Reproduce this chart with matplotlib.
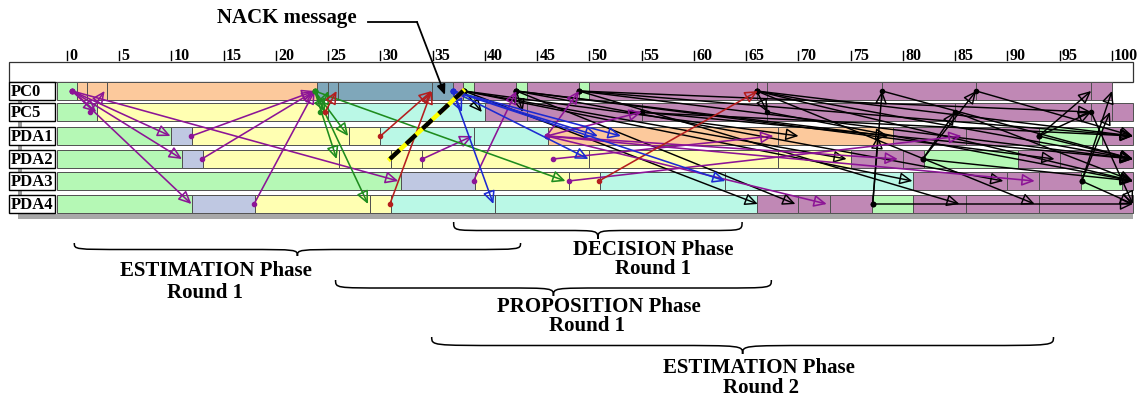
import matplotlib
matplotlib.use("Agg")
import matplotlib.pyplot as plt
from matplotlib.patches import Rectangle, FancyArrowPatch, PathPatch
from matplotlib.path import Path

# ---- data --------------------------------------------------------------
rows = ["PC0", "PC5", "PDA1", "PDA2", "PDA3", "PDA4"]

state_colors = {
    "G": "#b5f8b5",   # green
    "O": "#fcc99c",   # orange
    "S": "#7fa7ba",   # steel blue
    "P": "#c088b5",   # mauve
    "Y": "#ffffb2",   # yellow
    "C": "#baf8e6",   # cyan
    "B": "#bfc8e2",   # blue-grey
}

# state boundaries (time) and state of each interval, per row
bounds = [
    [-1, 1, 1.9, 3.8, 23.9, 25, 25.9, 34.9, 36.9, 37.9, 38.9, 43, 44, 49, 50, 66, 67, 78, 87, 98, 100, 102],
    [-1, 2.9, 25, 40, 44, 55, 67, 85, 98, 100, 102],
    [-1, 10, 12, 27, 30, 38.9, 46, 68, 79, 86, 93, 99, 102],
    [-1, 11, 13, 26, 31, 34, 50, 68, 75, 80, 82, 91, 95, 102],
    [-1, 32, 39, 48, 51, 63, 81, 90, 93, 97, 101, 102],
    [-1, 12, 18, 29, 31, 41, 66, 70, 73, 77, 81, 86, 93, 102],
]
states = [
    "GOOOSSSSPGPGPGPPPPPP",
    "GYCPPPPPPP",
    "GBYYCCOOPPGP",
    "GBYYYYYYPPGPP",
    "GBYYCCPPPGP",
    "GBYYCCPPPGPPP",
]

# messages: (t_from, row_from, t_to, row_to)
msg_purple = [(0.5, 0, 2.8, 1), (0.5, 0, 9.9, 2), (0.5, 0, 11.0, 3), (0.5, 0, 11.9, 5),
              (0.5, 0, 31.7, 4), (2.2, 1, 3.6, 0), (11.9, 2, 23.7, 0), (12.9, 3, 23.7, 0),
              (17.9, 5, 23.7, 0), (34.0, 3, 38.8, 2), (38.9, 4, 43.0, 0), (45.9, 2, 49.0, 0),
              (45.9, 2, 55.0, 1), (45.9, 2, 79.5, 3), (45.9, 2, 92.6, 4), (45.9, 2, 72.7, 5),
              (46.5, 3, 67.6, 2), (48.0, 4, 85.6, 2)]
msg_green = [(23.7, 0, 24.7, 1), (23.7, 0, 26.9, 2), (23.7, 0, 25.8, 3), (23.7, 0, 28.8, 5),
             (23.7, 0, 47.7, 4), (24.2, 1, 25.0, 0)]
msg_red = [(24.7, 1, 25.8, 0), (30.0, 2, 34.9, 0), (30.9, 5, 34.9, 0), (50.9, 4, 66.1, 0)]
msg_blue = [(36.9, 0, 37.8, 1), (36.9, 0, 40.8, 5), (36.9, 0, 49.9, 3), (36.9, 0, 50.8, 2),
            (36.9, 0, 63.0, 4), (36.9, 0, 53.0, 2)]
msg_black = [(38.0, 0, 39.7, 1), (38.0, 0, 66.1, 5), (38.0, 0, 74.6, 3), (38.0, 0, 80.9, 4),
             (38.0, 0, 70.0, 2), (43.0, 0, 43.6, 1), (43.0, 0, 78.6, 2), (43.0, 0, 89.6, 4),
             (43.0, 0, 69.7, 5), (43.0, 0, 94.5, 3), (49.0, 0, 85.4, 5), (49.0, 0, 102, 2),
             (49.0, 0, 102, 3), (49.0, 0, 98.0, 1), (66.0, 0, 67.0, 1), (66.0, 0, 102, 2),
             (66.0, 0, 102, 3), (66.0, 0, 102, 4), (66.0, 0, 92.6, 5), (54.0, 1, 102, 2),
             (55.0, 1, 102, 3), (67.0, 1, 102, 4), (77.1, 5, 78.0, 0), (77.1, 5, 77.6, 2),
             (77.1, 5, 102, 5), (81.9, 3, 87.0, 0), (81.9, 3, 85.0, 1), (81.9, 3, 102, 4),
             (93.0, 2, 98.0, 0), (93.0, 2, 98.0, 1), (93.0, 2, 102, 3), (97.1, 4, 100.0, 0),
             (97.1, 4, 99.8, 1), (97.1, 4, 102, 5), (87.0, 0, 102, 2), (78.0, 0, 102, 3),
             (85.0, 1, 102, 4), (98.0, 1, 102, 5)]
nack = (30.9, 3, 37.9, 0)

ticks = list(range(0, 101, 5))

phases = [("DECISION Phase\nRound 1", 37.0, 64.6),
          ("ESTIMATION Phase\nRound 1", 0.7, 43.4),
          ("PROPOSITION Phase\nRound 1", 25.7, 67.4),
          ("ESTIMATION Phase\nRound 2", 34.9, 94.4)]

# ---- layout --------------------------------------------------------------
W, H = 1148, 398
X0, PPU = 67, 10.45          # pixel of t=0, pixels per time unit
def lx(px):
    return (px - X0) / PPU

row_top = [82, 103, 127, 150, 172, 195]
row_h = 18
row_c = [t + row_h / 2 for t in row_top]
brace_y = [(222, 239), (243, 256), (280, 296), (337, 354)]
text_xy = [(653, 250, 653, 269), (216, 271, 205, 293), (599, 307, 587, 326), (759, 368, 761, 388)]

serif = "Liberation Serif"

fig = plt.figure(figsize=(W / 100, H / 100), dpi=100)
ax = fig.add_axes([0, 0, 1, 1])
ax.set_xlim(lx(0), lx(W))
ax.set_ylim(H, 0)
ax.axis("off")

# shadow
ax.add_patch(Rectangle((lx(18), 100), lx(22) - lx(18), 118, color="#9a9a9a", lw=0, zorder=0))
ax.add_patch(Rectangle((lx(18), 214), 102 - lx(18), 5, color="#a8a8a8", lw=0, zorder=0))

# top white box and tick labels
ax.add_patch(Rectangle((lx(9), 62), 102 - lx(9), 20, fc="white", ec="#333333", lw=0.9, zorder=1))
for t in ticks:
    ax.plot([t, t], [51, 60], color="black", lw=1.0)
    ax.text(t + 0.2, 60, str(t), fontsize=11.5, fontweight="bold", family=serif,
            ha="left", va="baseline")

# state rectangles
for i, name in enumerate(rows):
    b = bounds[i]
    for j, s in enumerate(states[i]):
        ax.add_patch(Rectangle((b[j], row_top[i]), b[j + 1] - b[j], row_h,
                               fc=state_colors[s], ec="#505050", lw=0.7, zorder=1))
    ax.add_patch(Rectangle((lx(9), row_top[i]), lx(55) - lx(9), row_h,
                           fc="white", ec="black", lw=1.0, zorder=2))
    ax.text(lx(11), row_c[i] + 1, name, fontsize=12, fontweight="bold", family=serif,
            ha="left", va="center", zorder=3)


def arrows(msgs, color, lw=1.15, z=4):
    for t0, r0, t1, r1 in msgs:
        a = FancyArrowPatch((t0, row_c[r0]), (t1, row_c[r1]),
                            arrowstyle="-|>,head_length=0.55,head_width=0.26",
                            mutation_scale=14, color=color, fc="none", lw=lw,
                            shrinkA=0, shrinkB=0, zorder=z)
        ax.add_patch(a)
        ax.plot(t0, row_c[r0], "o", ms=3, color=color, zorder=z)


arrows(msg_black, "black", lw=1.05)
arrows(msg_purple, "#8c1496")
arrows(msg_green, "#1e8c1e")
arrows(msg_red, "#b41e1e")
arrows(msg_blue, "#1c2ad2")

# NACK message (dashed black over yellow)
t0, r0, t1, r1 = nack
ax.plot([t0, t1], [row_c[r0], row_c[r1]], color="#ffff00", lw=3.2, zorder=5)
ax.plot([t0, t1], [row_c[r0], row_c[r1]], color="black", lw=3.2, ls=(0, (3, 2)), zorder=6)
ax.text(lx(287), 18, "NACK message", fontsize=15, fontweight="bold", family=serif,
        ha="center", va="center")
ax.plot([lx(368), lx(417)], [22, 22], color="black", lw=1.3)
ax.annotate("", xy=(lx(445), 95), xytext=(lx(417), 22),
            arrowprops=dict(arrowstyle="-|>,head_length=0.6,head_width=0.25",
                            color="black", lw=1.3, shrinkA=0, shrinkB=0), zorder=7)


def brace(t0, t1, ytop, ybot):
    r = (t1 - t0) * 0.12
    tc = (t0 + t1) / 2
    ym = (ytop + ybot) / 2
    verts = [(t0, ytop), (t0, ym), (t0, ym), (t0 + r, ym),
             (tc - r, ym), (tc, ym), (tc, ym), (tc, ybot),
             (tc, ym), (tc, ym), (tc + r, ym),
             (t1 - r, ym), (t1, ym), (t1, ym), (t1, ytop)]
    codes = [Path.MOVETO, Path.CURVE4, Path.CURVE4, Path.CURVE4,
             Path.LINETO, Path.CURVE4, Path.CURVE4, Path.CURVE4,
             Path.CURVE4, Path.CURVE4, Path.CURVE4,
             Path.LINETO, Path.CURVE4, Path.CURVE4, Path.CURVE4]
    ax.add_patch(PathPatch(Path(verts, codes), fc="none", ec="black", lw=1.1))


for (label, t0, t1), (yt, yb), (x1, y1, x2, y2) in zip(phases, brace_y, text_xy):
    brace(t0, t1, yt, yb)
    l1, l2 = label.split("\n")
    ax.text(lx(x1), y1, l1, fontsize=15, fontweight="bold", family=serif, ha="center", va="center")
    ax.text(lx(x2), y2, l2, fontsize=15, fontweight="bold", family=serif, ha="center", va="center")

fig.savefig("out.png", dpi=100)
